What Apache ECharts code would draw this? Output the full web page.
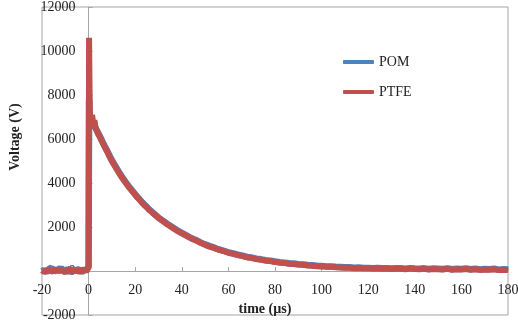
<!DOCTYPE html>
<html>
<head>
<meta charset="utf-8">
<script src="https://cdn.jsdelivr.net/npm/echarts@6/dist/echarts.min.js"></script>
<style>html,body{margin:0;padding:0;background:#fff}#c{width:518px;height:326px}</style>
</head>
<body>
<div id="c"></div>
<script>
var times = [-20,-19,-18,-17,-16,-15,-14,-13,-12,-11,-10,-9,-8,-7,-6,-5,-4,-3,-2,-1,
  -0.5,0,0.2,0.4,0.6,1,1.5,2,2.5,3,
  4,5,6,7,8,9,10,11,12,13,14,15,16,17,18,19,20,21,22,23,24,25,26,27,28,29,30,
  32,34,36,38,40,42,44,46,48,50,52,54,56,58,60,62,64,66,68,70,72,74,76,78,80,
  82,84,86,88,90,92,94,96,98,100,102,104,106,108,110,112,114,116,118,120,
  122,124,126,128,130,132,134,136,138,140,142,144,146,148,150,152,154,156,158,160,
  162,164,166,168,170,172,174,176,178,180];

var pomValues = [-20,40,-60,90,150,-40,60,0,170,-30,80,20,-50,110,-10,40,90,-60,30,50,
  20,200,7800,7300,6900,7000,6700,6800,6600,6550,
  6300,6100,5870,5650,5460,5230,5040,4850,4680,4500,4330,4180,4030,3880,3750,3620,3490,3360,3240,3120,3010,2910,2800,2710,2610,2520,2430,
  2280,2130,1990,1850,1730,1620,1500,1410,1300,1210,1130,1060,980,920,850,800,740,700,640,610,560,530,490,470,430,
  400,380,350,340,310,300,270,260,240,230,210,210,190,180,170,170,150,160,140,140,
  130,140,120,130,110,130,120,100,130,110,100,120,90,110,100,90,120,80,100,90,
  110,80,100,70,90,80,100,60,80,70];

var ptfeValues = [30,-50,40,70,-30,10,110,-40,60,0,-70,50,100,-20,30,60,-50,20,80,-10,
  40,150,10600,8300,6900,6500,7100,6700,6850,6500,
  6250,6050,5830,5620,5420,5200,5000,4820,4640,4470,4300,4150,4000,3850,3720,3590,3460,3330,3220,3100,2990,2890,2780,2690,2590,2500,2410,
  2260,2100,1970,1830,1710,1600,1480,1390,1280,1190,1110,1040,960,900,830,780,720,680,620,590,540,510,470,450,410,
  380,360,330,320,290,280,250,240,220,210,190,190,170,160,150,150,130,140,120,120,
  110,120,100,110,90,110,100,80,110,90,80,100,70,90,80,70,100,60,80,70,
  90,60,80,50,70,60,80,40,60,50];

var seriesNames = ['POM', 'PTFE'];
var xTicks = {min: -20, max: 180, interval: 20};
var yTicks = {min: -2000, max: 12000, interval: 2000};

var font = 'Liberation Serif, Times New Roman, serif';
var chart = echarts.init(document.getElementById('c'), null, {renderer: 'canvas'});
function pairs(vals) { return times.map(function (t, i) { return [t, vals[i]]; }); }

// grid geometry
var gL = 42, gR = 10, gT = 7, gB = 11;
var gW = 518 - gL - gR, gH = 326 - gT - gB;
// shift axes onto the zero lines
var yAxisOffset = -((0 - xTicks.min) / (xTicks.max - xTicks.min)) * gW;
var xAxisOffset = -((0 - yTicks.min) / (yTicks.max - yTicks.min)) * gH;

chart.setOption({
  animation: false,
  backgroundColor: '#fff',
  grid: {left: gL, right: gR, top: gT, bottom: gB, show: true, borderColor: '#a6a6a6', borderWidth: 1,
         containLabel: false, outerBoundsMode: 'none'},
  legend: {
    orient: 'vertical', left: 338, top: 50, itemWidth: 31, itemHeight: 4, itemGap: 16,
    icon: 'roundRect',
    textStyle: {fontFamily: font, fontSize: 14, color: '#222'},
    data: seriesNames
  },
  xAxis: {
    type: 'value', min: xTicks.min, max: xTicks.max, interval: xTicks.interval,
    offset: xAxisOffset,
    name: 'time (µs)', nameLocation: 'middle', nameGap: 25,
    nameTextStyle: {fontFamily: font, fontSize: 14, fontWeight: 'bold', color: '#222', padding: [0, 20, 0, 0]},
    axisLine: {onZero: false, lineStyle: {color: '#a6a6a6'}},
    axisTick: {show: true, inside: true, length: 4, lineStyle: {color: '#a6a6a6'}},
    axisLabel: {fontFamily: font, fontSize: 14, color: '#222', margin: 12,
                formatter: function (v) { return String(v); }},
    splitLine: {show: false}
  },
  yAxis: {
    type: 'value', min: yTicks.min, max: yTicks.max, interval: yTicks.interval,
    offset: yAxisOffset,
    name: 'Voltage (V)', nameLocation: 'middle', nameGap: 66, nameRotate: 90,
    nameTextStyle: {fontFamily: font, fontSize: 14, fontWeight: 'bold', color: '#222', padding: [0, 0, 0, 48]},
    axisLine: {show: true, onZero: false, lineStyle: {color: '#a6a6a6'}},
    axisTick: {show: true, inside: true, length: 4, lineStyle: {color: '#a6a6a6'}},
    axisLabel: {fontFamily: font, fontSize: 14, color: '#222', margin: 13,
                formatter: function (v) { return String(v); }},
    splitLine: {show: false}
  },
  series: [
    {name: seriesNames[0], type: 'line', data: pairs(pomValues), showSymbol: false, symbol: 'none',
     color: '#4f81bd', lineStyle: {width: 6.5, color: '#4f81bd'}, z: 2},
    {name: seriesNames[1], type: 'line', data: pairs(ptfeValues), showSymbol: false, symbol: 'none',
     color: '#c0504d', lineStyle: {width: 6, color: '#c0504d'}, z: 3}
  ]
});
</script>
</body>
</html>
